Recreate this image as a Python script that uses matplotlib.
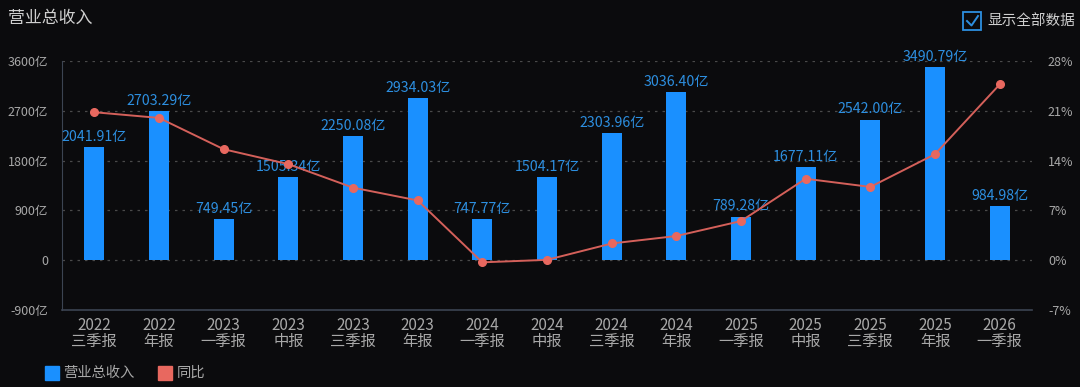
import matplotlib
matplotlib.use("Agg")
import matplotlib.pyplot as plt
from matplotlib.patches import Rectangle
from matplotlib.lines import Line2D

plt.rcParams['font.family'] = ['Noto Sans CJK SC', 'DejaVu Sans']

years = ["2022", "2022", "2023", "2023", "2023", "2023", "2024", "2024", "2024", "2024",
         "2025", "2025", "2025", "2025", "2026"]
periods = ["三季报", "年报", "一季报", "中报", "三季报", "年报", "一季报", "中报", "三季报", "年报",
           "一季报", "中报", "三季报", "年报", "一季报"]
revenue = [2041.91, 2703.29, 749.45, 1505.34, 2250.08, 2934.03, 747.77, 1504.17, 2303.96, 3036.40,
           789.28, 1677.11, 2542.00, 3490.79, 984.98]
yoy = [20.8, 20.0, 15.6, 13.5, 10.2, 8.4, -0.3, 0.05, 2.35, 3.4, 5.5, 11.45, 10.3, 14.9, 24.7]
left_ticks = [-900, 0, 900, 1800, 2700, 3600]
right_ticks = [-7, 0, 7, 14, 21, 28]

W, H = 1080, 387
BG = "#0b0b0d"
BAR = "#1a90ff"
LINE = "#d4605a"
DOT = "#e8685f"
TXT = "#a8a8a8"
LBL = "#2d8fe0"

fig = plt.figure(figsize=(W / 100, H / 100), dpi=100, facecolor=BG)
ax = fig.add_axes([62 / W, 1 - 310 / H, (1032 - 62) / W, (310 - 61) / H])
ax.set_facecolor(BG)
ax2 = ax.twinx()

x = list(range(len(revenue)))
ax.bar(x, revenue, width=0.31, color=BAR, zorder=2)
ax.set_xlim(-0.5, len(revenue) - 0.5)
ax.set_ylim(-900, 3600)
ax.set_yticks(left_ticks)
ax.set_yticklabels([("%d亿" % t) if t != 0 else "0" for t in left_ticks])
for t in left_ticks[1:]:
    ax.axhline(t, color="#4a4a4a", lw=0.9, ls=(0, (2, 4)), zorder=1)

for xi, v in zip(x, revenue):
    ax.text(xi, v + 55, "%.2f亿" % v, ha="center", va="bottom", color=LBL, fontsize=10.2, zorder=5)

ax2.plot(x, yoy, color=LINE, lw=1.4, marker="o", markersize=5.5, markerfacecolor=DOT,
         markeredgecolor=DOT, zorder=4)
ax2.set_ylim(-7, 28)
ax2.set_yticks(right_ticks)
ax2.set_yticklabels(["%d%%" % t for t in right_ticks])

ax.set_xticks(x)
ax.set_xticklabels(["%s\n%s" % (a, b) for a, b in zip(years, periods)], linespacing=0.95)

for a in (ax, ax2):
    for s in a.spines.values():
        s.set_visible(False)
    a.tick_params(length=0, colors=TXT, labelsize=9)
ax.tick_params(axis='x', pad=5, labelsize=11)
ax.tick_params(axis='y', pad=10)
ax2.tick_params(axis='y', pad=11.5)
ax.spines['left'].set_visible(True)
ax.spines['left'].set_color("#3c4452")
ax.spines['bottom'].set_visible(True)
ax.spines['bottom'].set_color("#3c4452")
ax.spines['bottom'].set_linewidth(1.2)
ax2.patch.set_visible(False)

# title
fig.text(8 / W, 1 - 18 / H, "营业总收入", color="#cfcfcf", fontsize=12.2, va="center", ha="left")

# checkbox
fig.patches.append(Rectangle((963 / W, 1 - 30 / H), 18 / W, 18 / H, transform=fig.transFigure,
                             fill=False, edgecolor="#2d8fe0", lw=1.3))
fig.lines.append(Line2D([967 / W, 971.5 / W, 978 / W], [1 - 21 / H, 1 - 25.5 / H, 1 - 16 / H],
                        transform=fig.transFigure, color="#2d8fe0", lw=1.4))
fig.text(987 / W, 1 - 21 / H, "显示全部数据", color="#cfcfcf", fontsize=10.5, va="center", ha="left")

# legend
fig.patches.append(Rectangle((45 / W, 1 - 380 / H), 14 / W, 14 / H, transform=fig.transFigure,
                             color=BAR))
fig.text(63 / W, 1 - 373 / H, "营业总收入", color=TXT, fontsize=10.3, va="center", ha="left")
fig.patches.append(Rectangle((158 / W, 1 - 380 / H), 14 / W, 14 / H, transform=fig.transFigure,
                             color=DOT))
fig.text(177 / W, 1 - 373 / H, "同比", color=TXT, fontsize=10.3, va="center", ha="left")

fig.savefig("out.png", dpi=100, facecolor=BG)
